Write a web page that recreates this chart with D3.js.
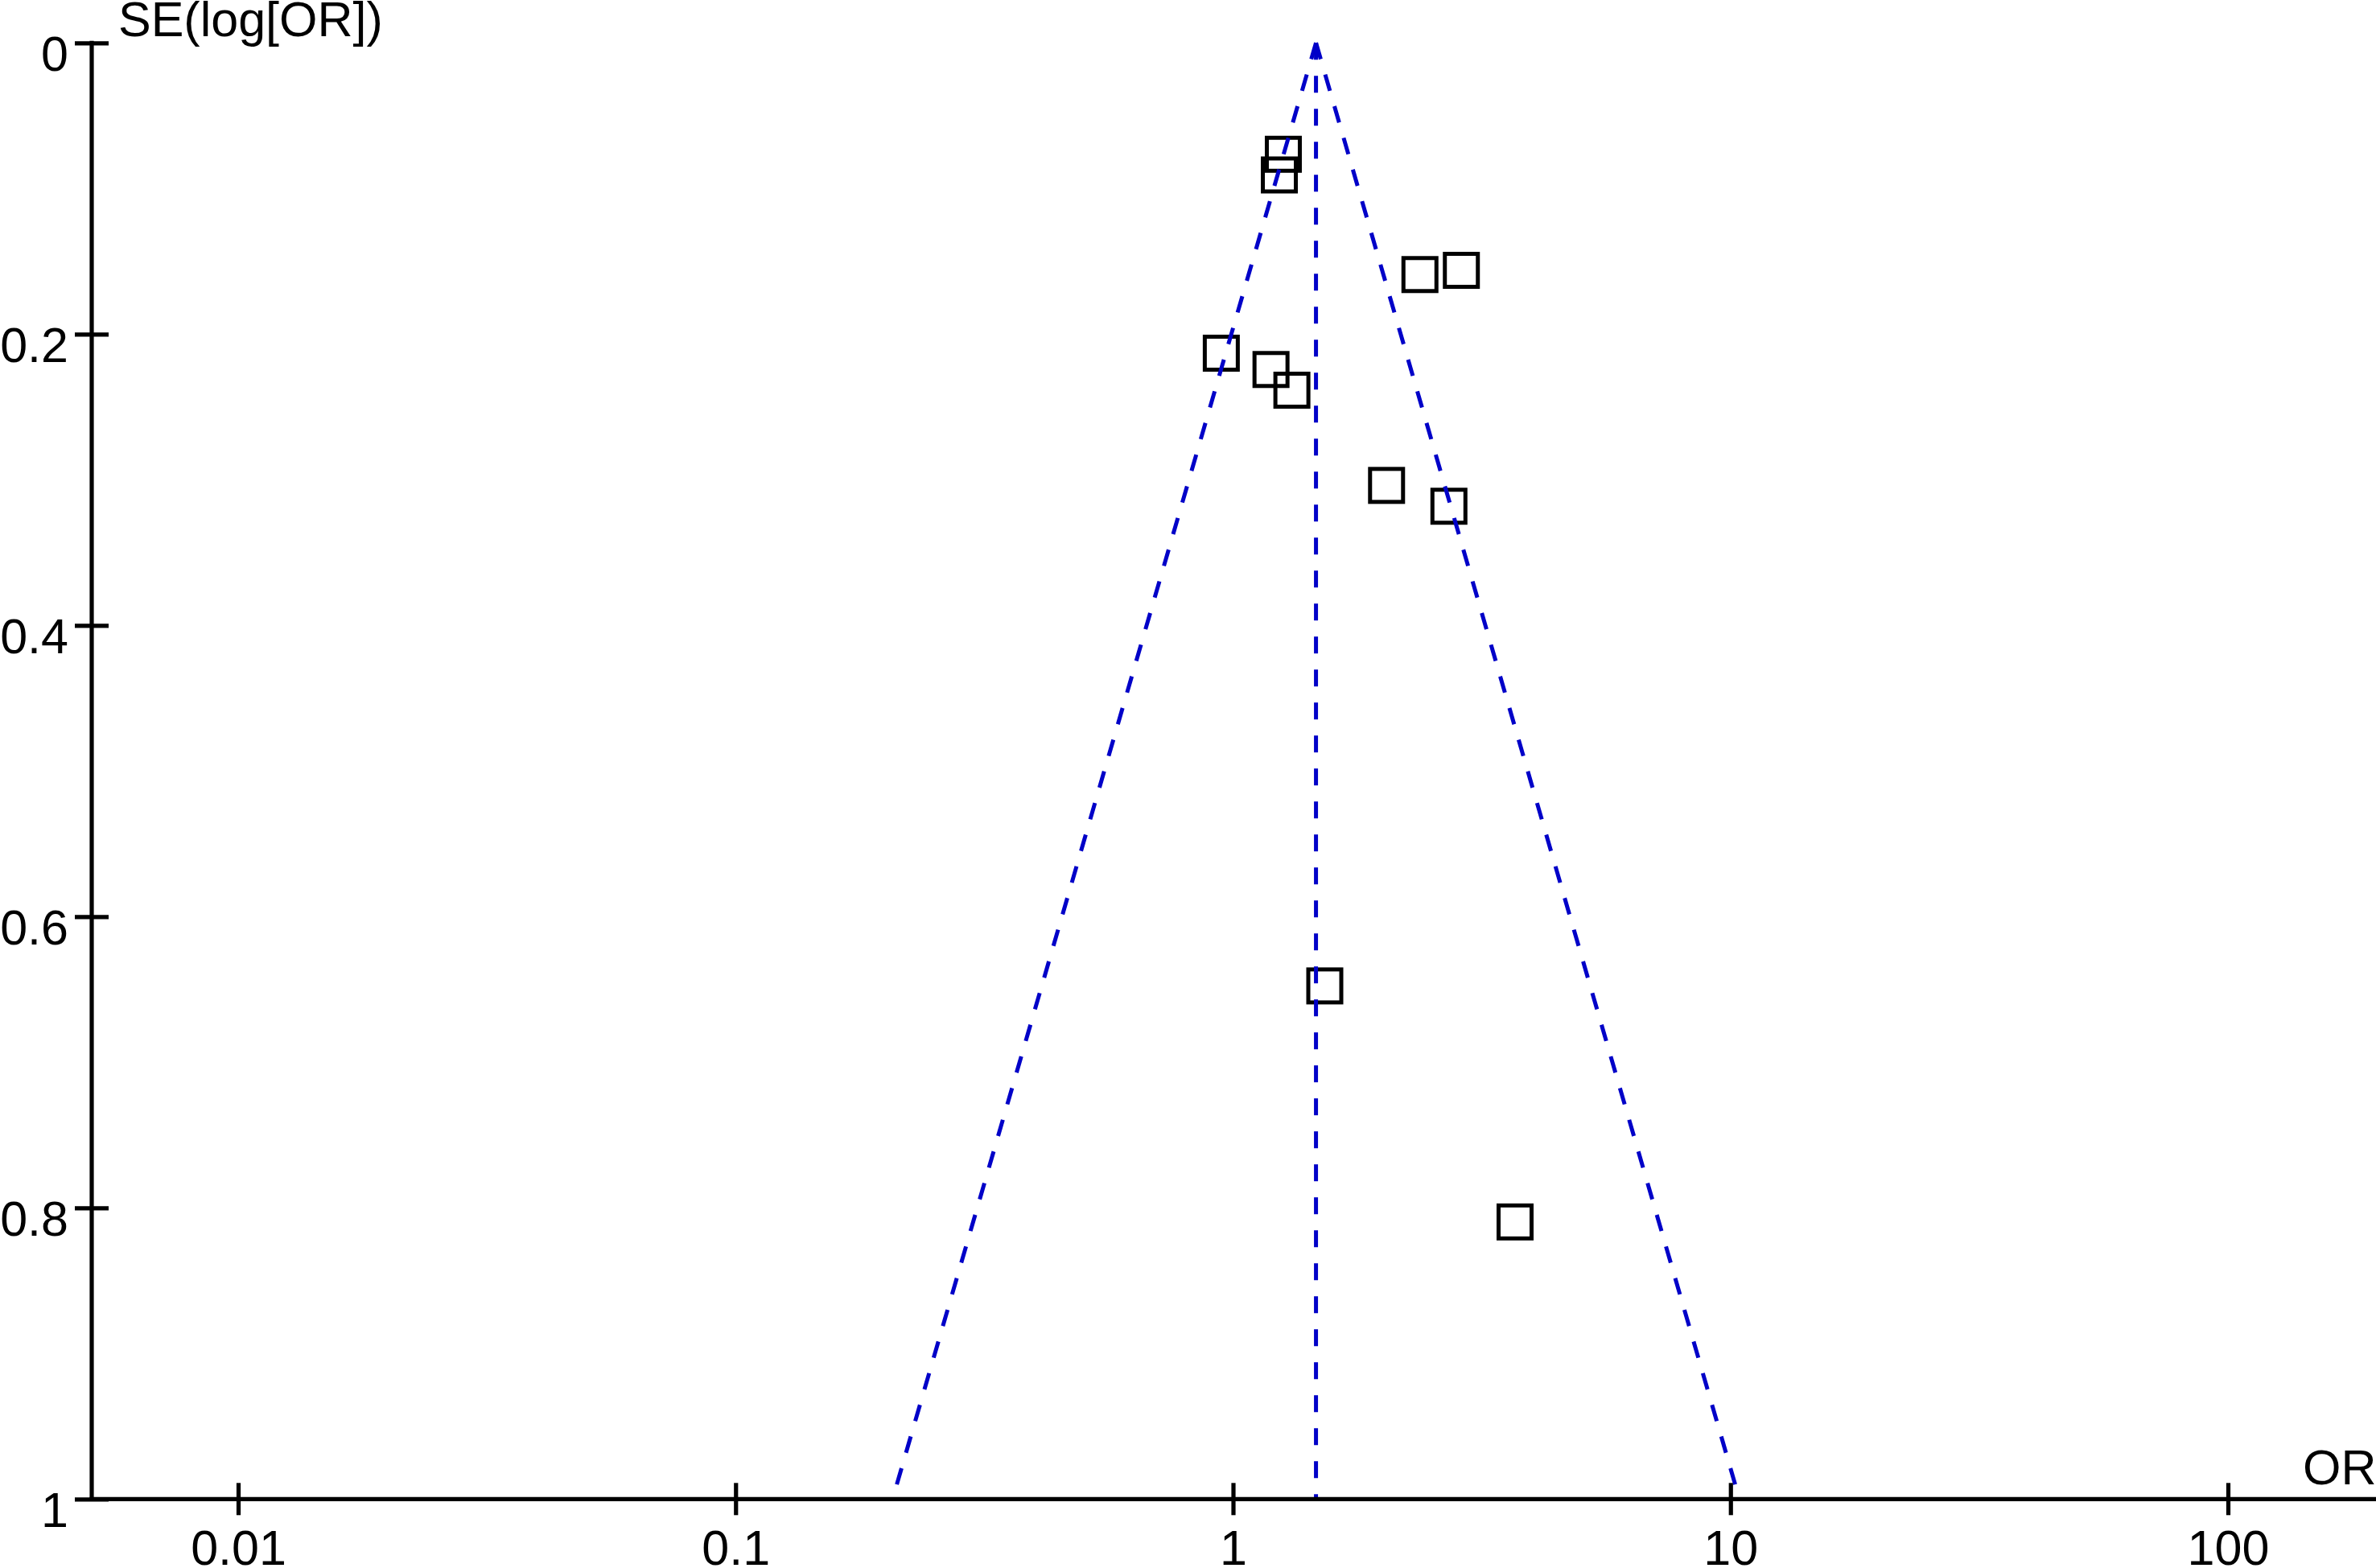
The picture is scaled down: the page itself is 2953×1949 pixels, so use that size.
<!DOCTYPE html>
<html>
<head>
<meta charset="utf-8">
<script src="https://cdn.jsdelivr.net/npm/d3@7"></script>
<style>
  html, body { margin: 0; padding: 0; background: #ffffff; }
  svg { display: block; }
  text { font-family: "Liberation Sans", Arial, sans-serif; fill: #000; }
</style>
</head>
<body>
<script>
// ---- Data ----
const studyOR = [1.262, 1.239, 0.947, 1.192, 1.313, 2.375, 2.877, 2.035, 2.716, 1.529, 3.689];
const studySE = [0.0765, 0.0907, 0.2131, 0.2243, 0.2385, 0.1591, 0.1562, 0.3039, 0.3182, 0.6476, 0.8097];
const pooledOR = 1.468;
const xTickValues = [0.01, 0.1, 1, 10, 100];
const xTickLabels = ["0.01", "0.1", "1", "10", "100"];
const yTickValues = [0, 0.2, 0.4, 0.6, 0.8, 1];
const yTickLabels = ["0", "0.2", "0.4", "0.6", "0.8", "1"];
const yAxisTitle = "SE(log[OR])";
const xAxisTitle = "OR";

// ---- Layout ----
const W = 2953, H = 1949;
const axisX = 114;        // y-axis position
const axisY = 1863.3;     // x-axis position
const svg = d3.select("body").append("svg").attr("width", W).attr("height", H);

const x = d3.scaleLog().domain([0.01, 100]).range([296, 2769]);
const y = d3.scaleLinear().domain([0, 1]).range([53.3, axisY]);

const strokeW = 5.2;
const blue = "#0000c8";

// ---- Squares (studies) ----
const side = 41;
const studies = studyOR.map((d, i) => ({ or: d, se: studySE[i] }));
svg.append("g").selectAll("rect").data(studies).join("rect")
  .attr("x", d => x(d.or) - side / 2)
  .attr("y", d => y(d.se) - side / 2)
  .attr("width", side).attr("height", side)
  .attr("fill", "none").attr("stroke", "#000").attr("stroke-width", 5);

// ---- Funnel lines (pseudo 95% CI) ----
const z = 1.96;
const seMax = 1;
const funnel = [
  [[pooledOR, 0], [Math.exp(Math.log(pooledOR) - z * seMax), seMax]],
  [[pooledOR, 0], [pooledOR, seMax]],
  [[pooledOR, 0], [Math.exp(Math.log(pooledOR) + z * seMax), seMax]]
];
const line = d3.line().x(d => x(d[0])).y(d => y(d[1]));
svg.append("g").selectAll("path").data(funnel).join("path")
  .attr("d", line)
  .attr("fill", "none").attr("stroke", blue).attr("stroke-width", 5)
  .attr("stroke-dasharray", "21,20");

// ---- Axes ----
const fontSize = 61;
// Y axis
const gy = svg.append("g").attr("transform", `translate(${axisX},0)`)
  .call(d3.axisLeft(y).tickValues(yTickValues).tickFormat((d, i) => yTickLabels[i]).tickSize(0));
gy.select(".domain").remove();
gy.selectAll(".tick line").attr("x1", -21).attr("x2", 21)
  .attr("stroke", "#000").attr("stroke-width", strokeW);
gy.selectAll(".tick text").attr("x", -29).attr("dy", null).attr("y", 34)
  .attr("text-anchor", "end").style("font-size", fontSize + "px")
  .style("font-family", '"Liberation Sans", Arial, sans-serif');
gy.append("line").attr("x1", 0).attr("x2", 0).attr("y1", y(0) - strokeW / 2).attr("y2", axisY)
  .attr("stroke", "#000").attr("stroke-width", strokeW);

// X axis
const gx = svg.append("g").attr("transform", `translate(0,${axisY})`)
  .call(d3.axisBottom(x).tickValues(xTickValues).tickFormat((d, i) => xTickLabels[i]).tickSize(0));
gx.select(".domain").remove();
gx.selectAll(".tick line").attr("y1", -20).attr("y2", 20)
  .attr("stroke", "#000").attr("stroke-width", strokeW);
gx.selectAll(".tick text").attr("y", 82).attr("dy", null)
  .attr("text-anchor", "middle").style("font-size", fontSize + "px")
  .style("font-family", '"Liberation Sans", Arial, sans-serif');
gx.append("line").attr("x1", axisX - strokeW / 2).attr("x2", W).attr("y1", 0).attr("y2", 0)
  .attr("stroke", "#000").attr("stroke-width", strokeW);

// Titles
svg.append("text").attr("x", 147).attr("y", 45)
  .style("font-size", fontSize + "px").text(yAxisTitle);
svg.append("text").attr("x", 2862).attr("y", 1845)
  .style("font-size", fontSize + "px").text(xAxisTitle);
</script>
</body>
</html>
